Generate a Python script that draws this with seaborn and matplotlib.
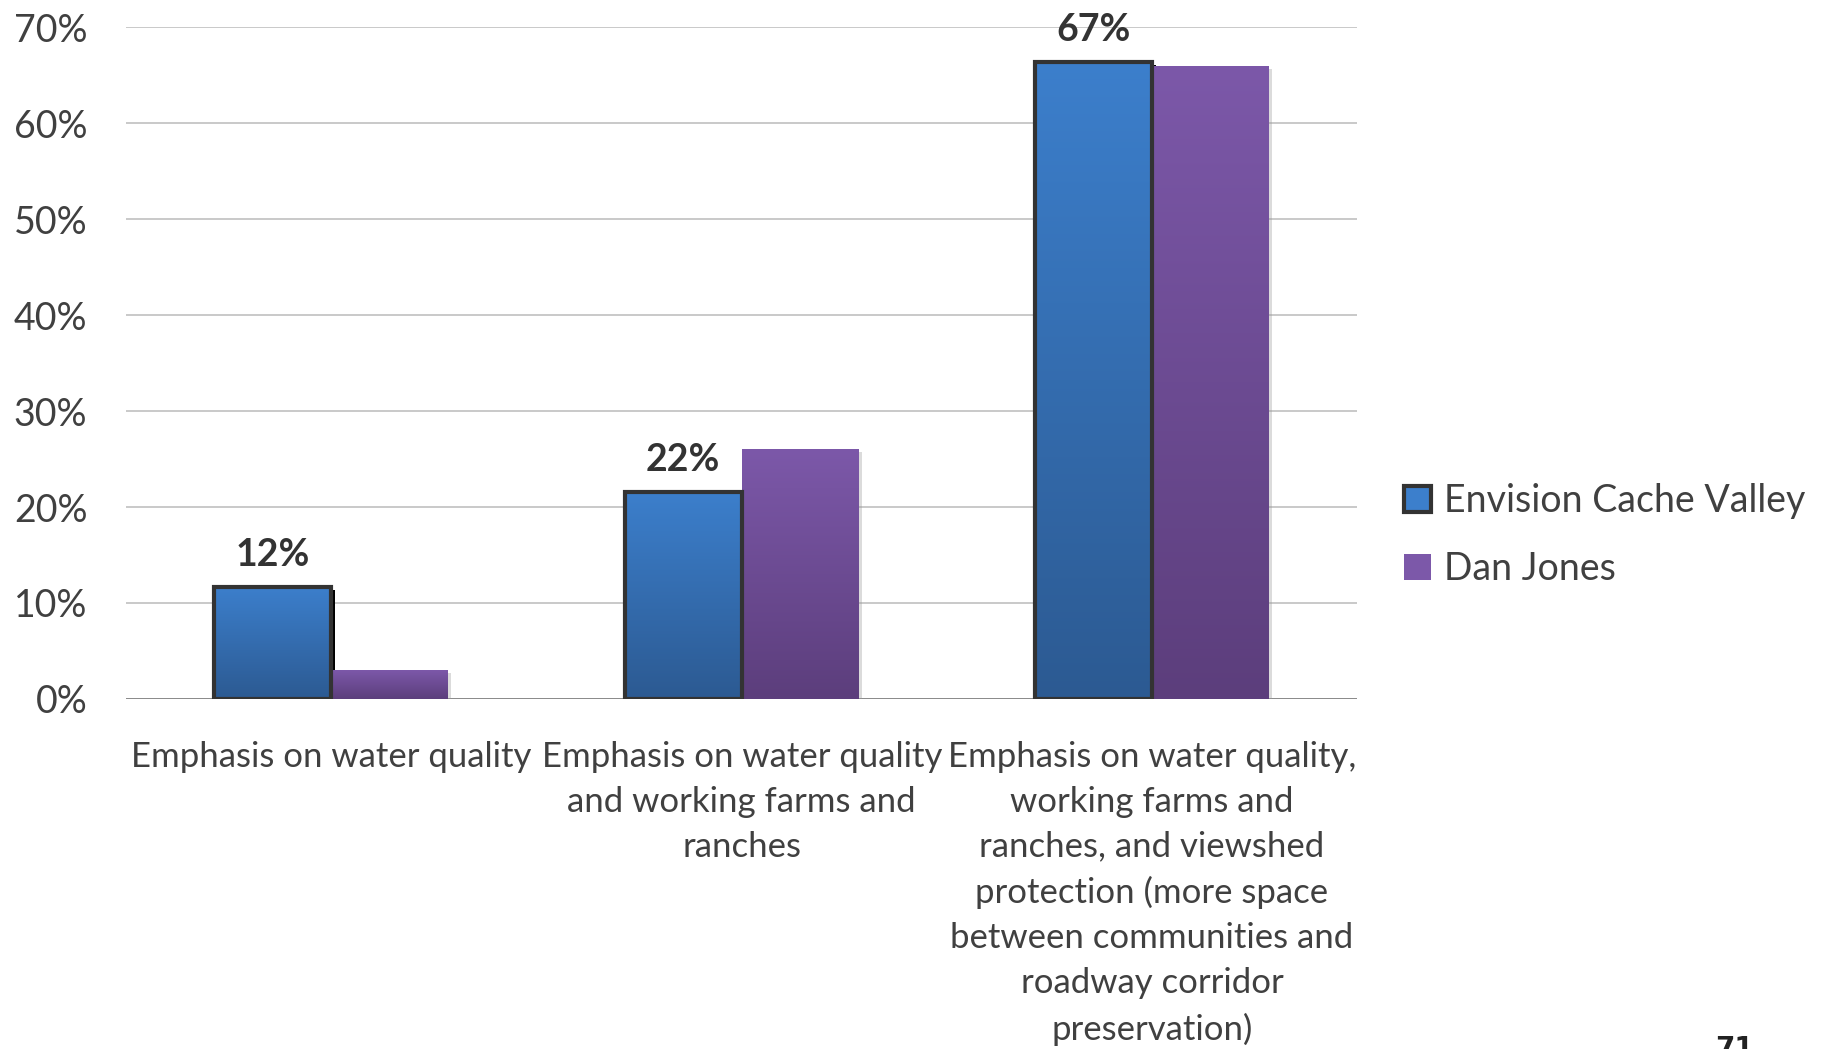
import numpy as np
import pandas as pd
import seaborn as sns
import matplotlib.pyplot as plt
from matplotlib.patches import Patch, Rectangle
from matplotlib.colors import LinearSegmentedColormap
from matplotlib.transforms import offset_copy

# DATA
categories = [
    "Emphasis on water quality",
    "Emphasis on water quality\nand working farms and\nranches",
    "Emphasis on water quality,\nworking farms and\nranches, and viewshed\nprotection (more space\nbetween communities and\nroadway corridor\npreservation)",
]
series_names = ["Envision Cache Valley", "Dan Jones"]
envision = [11.7, 21.6, 66.4]
dan_jones = [3, 26, 66]
bar_labels = ["12%", "22%", "67%"]
y_ticks = [0, 10, 20, 30, 40, 50, 60, 70]

df = pd.DataFrame({
    "Category": categories * 2,
    "Survey": [series_names[0]] * len(envision) + [series_names[1]] * len(dan_jones),
    "Percent": envision + dan_jones,
})

# STYLE
sns.set_style("white")
plt.rcParams["font.family"] = ["Lato", "DejaVu Sans"]
text_color = "#404040"
blue_top, blue_bot = "#3C7FCC", "#2C5A92"
purple_top, purple_bot = "#7C58A9", "#5C3E7C"

fig = plt.figure(figsize=(18.3, 10.49), dpi=100)
ax = fig.add_axes([0.069, 0.3337, 0.6726, 0.6403])

sns.barplot(data=df, x="Category", y="Percent", hue="Survey",
            palette=[blue_top, purple_top], width=0.57, saturation=1,
            legend=False, ax=ax)

xlim = ax.get_xlim()

# GRADIENT FILLS + SHADOWS
bars = ax.patches[:6]
for i, bar in enumerate(bars):
    s = i // 3
    top, bot = (blue_top, blue_bot) if s == 0 else (purple_top, purple_bot)
    cmap = LinearSegmentedColormap.from_list("grad", [bot, top])
    x0, w, h = bar.get_x(), bar.get_width(), bar.get_height()
    img = ax.imshow(np.linspace(0, 1, 256).reshape(-1, 1), cmap=cmap,
                    extent=[x0, x0 + w, 0, h], origin="lower", aspect="auto",
                    zorder=2, interpolation="bicubic")
    img.set_clip_path(bar)
    bar.set_facecolor("none")
    bar.set_zorder(3)
    if s == 0:
        bar.set_edgecolor("#333333")
        bar.set_linewidth(3)
        shadow = Rectangle((x0, 0), w, h, facecolor="black", edgecolor="none",
                           transform=offset_copy(ax.transData, fig, x=4, y=-3, units="dots"),
                           zorder=1.5)
    else:
        bar.set_edgecolor("none")
        shadow = Rectangle((x0, 0), w, h, facecolor="#999999", alpha=0.35, edgecolor="none",
                           transform=offset_copy(ax.transData, fig, x=3, y=-3, units="dots"),
                           zorder=1.5)
    ax.add_patch(shadow)

# LABELS ON BLUE BARS
for bar, lab in zip(bars[:3], bar_labels):
    ax.text(bar.get_x() + bar.get_width() / 2, bar.get_height() + 1.5, lab,
            ha="center", va="bottom", fontsize=27, fontweight="bold", color="#333333")

# AXES
ax.set_xlim(xlim)
ax.set_ylim(0, 70)
ax.set_yticks(y_ticks)
ax.set_yticklabels([f"{t}%" for t in y_ticks], fontsize=27, color=text_color)
ax.tick_params(axis="y", length=0, pad=28)
ax.tick_params(axis="x", length=0, pad=30, labelsize=25, labelcolor=text_color)
for t in ax.get_xticklabels():
    t.set_linespacing(1.5)
ax.set_xlabel("")
ax.set_ylabel("")
ax.yaxis.grid(True, color="#C0C0C0", linewidth=1.2)
ax.set_axisbelow(True)
ax.axhline(0, color="#868686", linewidth=1.3, zorder=1)
sns.despine(ax=ax, left=True, bottom=True)

# LEGEND
handles = [Patch(facecolor=blue_top, edgecolor="#333333", linewidth=3),
           Patch(facecolor=purple_top, edgecolor="none")]
fig.legend(handles, series_names, loc="center left", bbox_to_anchor=(0.749, 0.49),
           frameon=False, fontsize=27, handlelength=0.7, handleheight=0.7,
           handletextpad=0.35, labelspacing=0.85, labelcolor=text_color)

# PAGE NUMBER
fig.text(0.948, 0.0135, "71", fontsize=20, fontweight="bold", color="#222222",
         ha="center", va="top", family=["DejaVu Sans"])

plt.savefig("out.png", dpi=100)
